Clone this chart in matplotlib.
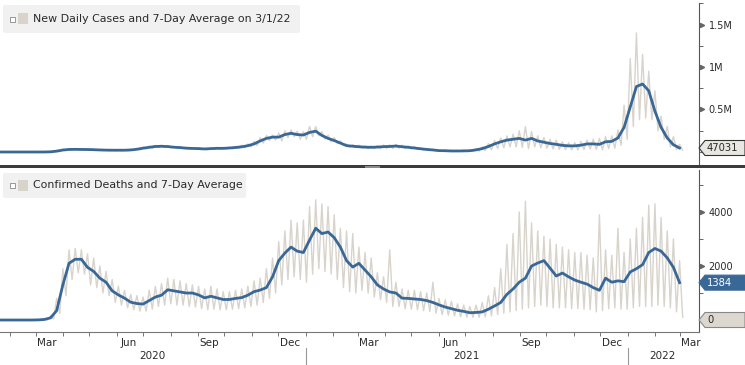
import numpy as np
import pandas as pd
import matplotlib
matplotlib.use('Agg')
from matplotlib import pyplot as plt
import matplotlib.dates as mdates
import matplotlib.transforms as mtransforms
from matplotlib.patches import Polygon, FancyBboxPatch, Rectangle
from matplotlib.ticker import MultipleLocator, FixedLocator, FixedFormatter

plt.rcParams['font.family'] = ['DejaVu Sans']

# weekly readings, 2020-01-22 .. 2022-03-01
# new daily cases, thousands: 7-day avg, weekly high, weekly low
cases_avg = [0, 0, 0, 0, 0, 0, 0.03, 0.3, 2, 10,
             23, 30, 31, 30, 29, 27, 24, 22, 21, 21,
             21, 24, 32, 45, 55, 65, 67, 64, 56, 52,
             45, 42, 40, 36, 40, 43, 43, 47, 53, 61,
             74, 95, 130, 160, 175, 175, 205, 220, 205, 200,
             230, 245, 195, 160, 135, 105, 75, 68, 62, 57,
             55, 58, 63, 65, 70, 62, 55, 47, 38, 30,
             24, 16, 15, 12, 12, 13, 15, 25, 40, 65,
             95, 120, 140, 150, 160, 140, 160, 130, 115, 100,
             90, 78, 72, 72, 80, 95, 95, 90, 120, 125,
             165, 290, 530, 770, 800, 720, 480, 290, 165, 85, 47.031]
cases_hi = [0, 0, 0, 0, 0, 0, 0.1, 1, 5, 18,
            33, 38, 40, 38, 36, 34, 30, 28, 28, 27,
            27, 32, 42, 57, 70, 78, 80, 76, 66, 62,
            53, 50, 52, 44, 50, 55, 52, 58, 67, 80,
            95, 125, 170, 195, 200, 225, 250, 260, 245, 240,
            300, 300, 240, 200, 170, 130, 95, 85, 80, 72,
            70, 75, 82, 85, 90, 80, 72, 62, 50, 40,
            32, 24, 22, 19, 18, 22, 25, 40, 60, 100,
            135, 165, 190, 210, 250, 300, 240, 190, 170, 150,
            140, 120, 110, 110, 125, 140, 150, 160, 180, 190,
            260, 550, 1100, 1400, 1150, 950, 720, 420, 300, 180, 90]
cases_lo = [0, 0, 0, 0, 0, 0, 0, 0.1, 1, 6,
            18, 25, 25, 24, 23, 20, 18, 17, 15, 16,
            16, 18, 25, 35, 43, 52, 55, 50, 45, 40,
            35, 33, 28, 25, 30, 33, 35, 38, 42, 48,
            60, 75, 105, 135, 140, 130, 170, 180, 150, 150,
            180, 190, 150, 120, 100, 80, 55, 50, 45, 40,
            38, 40, 42, 40, 45, 40, 35, 30, 22, 18,
            14, 8, 8, 6, 5, 5, 5, 10, 15, 25,
            40, 50, 60, 60, 55, 40, 60, 50, 45, 35,
            30, 28, 25, 25, 28, 35, 30, 25, 40, 45,
            80, 150, 300, 380, 400, 380, 250, 150, 60, 30, 20]

# confirmed deaths
deaths_avg = [0, 0, 0, 0, 0, 0, 5, 20, 80, 350,
              1300, 2100, 2250, 2250, 1950, 1800, 1550, 1400, 1080, 930,
              810, 660, 610, 590, 720, 850, 920, 1120, 1080, 1040,
              1000, 1000, 930, 820, 880, 820, 760, 760, 800, 830,
              920, 1050, 1110, 1200, 1600, 2200, 2480, 2700, 2550, 2500,
              2960, 3400, 3200, 3260, 3050, 2700, 2200, 1960, 2100, 1850,
              1600, 1300, 1150, 1040, 1000, 810, 800, 780, 760, 720,
              650, 560, 480, 420, 360, 320, 270, 280, 300, 400,
              520, 650, 950, 1150, 1400, 1550, 2000, 2110, 2200, 1920,
              1630, 1740, 1600, 1480, 1400, 1330, 1200, 1100, 1550, 1400,
              1450, 1420, 1780, 1900, 2050, 2500, 2650, 2550, 2300, 1950, 1384]
deaths_hi = [0, 0, 0, 0, 0, 0, 5, 30, 150, 800,
             1900, 2600, 2650, 2600, 2450, 2300, 2000, 1800, 1500, 1250,
             1100, 950, 900, 850, 1100, 1250, 1350, 1550, 1500, 1450,
             1350, 1300, 1250, 1150, 1250, 1150, 1050, 1050, 1100, 1150,
             1250, 1450, 1550, 1900, 2300, 2900, 3300, 3700, 3600, 3700,
             4200, 4450, 4300, 4200, 3900, 3400, 3300, 3200, 2700, 2500,
             2300, 1750, 1600, 2600, 1400, 1150, 1100, 1100, 1050, 1000,
             1400, 800, 750, 700, 600, 550, 500, 550, 650, 900,
             1200, 1900, 2800, 3200, 4000, 4400, 3600, 3300, 3100, 3000,
             2800, 2700, 2600, 2500, 2500, 2400, 2300, 3900, 2600, 2400,
             3400, 2500, 3000, 3400, 3800, 4250, 4300, 3800, 3300, 3000, 2200]
deaths_lo = [0, 0, 0, 0, 0, 0, 0, 5, 40, 250,
             900, 1500, 1750, 1700, 1300, 1200, 1000, 900, 650, 550,
             450, 380, 330, 330, 400, 500, 550, 600, 550, 550,
             500, 480, 420, 380, 400, 380, 380, 400, 420, 450,
             500, 550, 650, 800, 1000, 1300, 1500, 1600, 1500, 1400,
             1700, 1900, 1800, 1700, 1500, 1200, 1050, 1000, 1100, 1000,
             850, 750, 650, 500, 500, 420, 400, 380, 350, 320,
             250, 200, 180, 150, 120, 100, 100, 100, 120, 150,
             200, 250, 300, 350, 400, 450, 500, 550, 500, 450,
             450, 450, 420, 420, 400, 380, 300, 350, 420, 450,
             400, 400, 450, 500, 500, 500, 550, 500, 450, 300, 100]

cases_title = 'New Daily Cases and 7-Day Average on 3/1/22'
deaths_title = 'Confirmed Deaths and 7-Day Average'
cases_last = '47031'
deaths_last = '1384'

BLUE = '#3a6896'
GREY = '#d8d3cb'
TXT = '#2a2a2a'
W, H = 745, 365

weeks = pd.date_range('2020-01-22', '2022-03-01', periods=len(deaths_avg))


def zigzag(hi, lo):
    # weekly peak mid-week, trough at the weekend
    d = []
    v = []
    for t, a, b in zip(weeks, hi, lo):
        d += [t, t + pd.Timedelta(days=3.5)]
        v += [a, b]
    return d, v


def fr(x0, y0, x1, y1):
    return [x0 / W, 1 - y1 / H, (x1 - x0) / W, (y1 - y0) / H]


def px(x, y):
    return x / W, 1 - y / H


fig = plt.figure(figsize=(7.45, 3.65), dpi=100)
ax1 = fig.add_axes(fr(0, 3, 699, 165))
ax2 = fig.add_axes(fr(0, 170, 699, 332))

xlim = (pd.Timestamp('2020-01-20 16:00'), pd.Timestamp('2022-03-23'))

d, v = zigzag([c * 1000 for c in cases_hi], [c * 1000 for c in cases_lo])
ax1.plot(d, v, color=GREY, lw=1.0)
ax1.plot(weeks, [c * 1000 for c in cases_avg], color=BLUE, lw=2.0, solid_joinstyle='round')
ax1.set_ylim(-153000, 1753000)

d, v = zigzag(deaths_hi, deaths_lo)
ax2.plot(d, v, color=GREY, lw=1.0)
ax2.plot(weeks, deaths_avg, color=BLUE, lw=2.0, solid_joinstyle='round')
ax2.set_ylim(-444, 5556)

for ax, majors, labels, minor in [(ax1, [500000, 1000000, 1500000], ['0.5M', '1M', '1.5M'], 250000),
                                  (ax2, [2000, 4000], ['2000', '4000'], 1000)]:
    ax.set_xlim(*xlim)
    for s in ['left', 'top']:
        ax.spines[s].set_visible(False)
    ax.spines['right'].set_color('#555555')
    ax.spines['right'].set_linewidth(0.8)
    ax.yaxis.tick_right()
    ax.yaxis.set_major_locator(FixedLocator(majors))
    ax.yaxis.set_major_formatter(FixedFormatter(labels))
    ax.yaxis.set_minor_locator(MultipleLocator(minor))
    ax.tick_params(axis='y', which='major', length=0, pad=7, labelsize=7, labelcolor=TXT)
    ax.tick_params(axis='y', which='minor', length=3, width=0.7, color='#666666', direction='out')
    tr = mtransforms.blended_transform_factory(ax.transAxes, ax.transData)
    ax.plot([1.004] * len(majors), majors, ls='none', marker='>', ms=3, color='#666666',
            transform=tr, clip_on=False)

ax1.spines['bottom'].set_visible(False)
ax1.set_xticks([])

ax2.spines['bottom'].set_color('#777777')
ax2.spines['bottom'].set_linewidth(0.8)
ax2.xaxis.set_minor_locator(mdates.MonthLocator())
ax2.xaxis.set_major_locator(mdates.MonthLocator(bymonth=(3, 6, 9, 12), bymonthday=14))
ax2.xaxis.set_major_formatter(mdates.DateFormatter('%b'))
ax2.tick_params(axis='x', which='major', length=0, pad=4, labelsize=7.5, labelcolor=TXT)
ax2.tick_params(axis='x', which='minor', length=3, width=0.7, color='#777777')

trx = mtransforms.blended_transform_factory(ax2.transData, ax2.transAxes)
for yr, mid in [('2020', '2020-07-11'), ('2021', '2021-07-02'), ('2022', '2022-02-10')]:
    ax2.text(pd.Timestamp(mid), -0.15, yr, transform=trx, ha='center', va='center',
             fontsize=7.5, color=TXT, clip_on=False)
for sep in ['2021-01-01', '2022-01-01']:
    ax2.plot([pd.Timestamp(sep)] * 2, [-0.10, -0.21], color='#999999', lw=0.8,
             transform=trx, clip_on=False)

# legend boxes
for (x0, y0, x1, y1, title) in [(3, 5, 300, 33, cases_title), (3, 173, 246, 198, deaths_title)]:
    fig.add_artist(FancyBboxPatch(px(x0, y1), (x1 - x0) / W, (y1 - y0) / H,
                                  boxstyle='round,pad=0,rounding_size=0.004',
                                  fc='#f1f1f1', ec='none', transform=fig.transFigure))
    yc = (y0 + y1) / 2
    fig.add_artist(Rectangle(px(10, yc + 2.5), 5 / W, 5 / H, fc='white', ec='#888888', lw=0.6,
                             transform=fig.transFigure))
    fig.add_artist(Rectangle(px(18, yc + 5), 10 / W, 11 / H, fc=GREY, ec='none',
                             transform=fig.transFigure))
    fig.text(*px(33, yc), title, fontsize=7.9, color=TXT, va='center', ha='left')

# divider between the panels
fig.add_artist(Rectangle(px(0, 168.5), 1, 3 / H, fc='#3c3c3c', ec='none', transform=fig.transFigure))
fig.add_artist(Rectangle(px(365, 168), 15 / W, 2 / H, fc='#8c8c8c', ec='none', transform=fig.transFigure))


def tag(ax, val, text, fc, ec, tc):
    yd = ax.transData.transform((0, val))[1]
    yc = H - yd
    hh = 7.5
    pts = [px(699, yc), px(705, yc - hh), px(745, yc - hh), px(745, yc + hh), px(705, yc + hh)]
    fig.add_artist(Polygon(pts, closed=True, fc=fc, ec=ec, lw=0.8, transform=fig.transFigure))
    fig.text(*px(707, yc), text, fontsize=7.2, color=tc, va='center', ha='left')


tag(ax1, cases_avg[-1] * 1000, cases_last, '#e9e7e2', '#333333', TXT)
tag(ax2, deaths_avg[-1], deaths_last, BLUE, BLUE, 'white')
tag(ax2, 0, '0', '#dcd8d0', '#888888', TXT)

fig.savefig('out.png', dpi=100)
